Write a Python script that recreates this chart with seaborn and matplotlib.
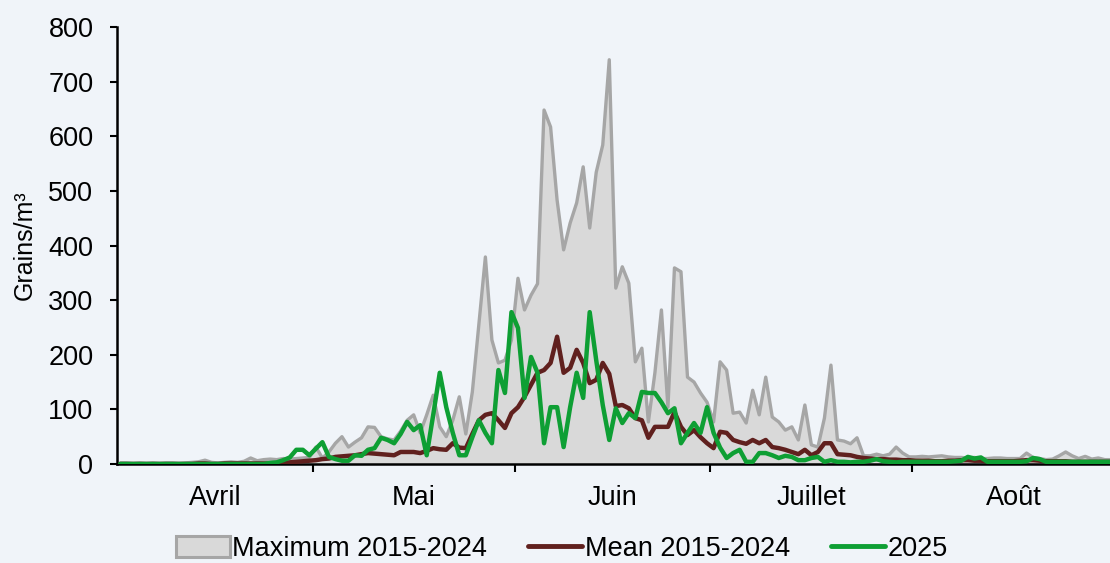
import numpy as np
import pandas as pd
import matplotlib
matplotlib.use("Agg")
import matplotlib.pyplot as plt
from matplotlib.patches import Patch
from matplotlib.lines import Line2D
import seaborn as sns

# Daily values, 1 April -> 31 August (day index 0..152)
max_2015_2024 = [
    2, 2, 1, 2, 1, 2, 1, 2, 2, 1, 2, 3, 4, 7, 3, 2, 3, 4, 3, 5,
    11, 6, 8, 9, 8, 10, 9, 10, 11, 12, 31, 11, 22, 38, 50, 31, 40, 48, 68, 67,
    50, 46, 44, 60, 80, 90, 57, 90, 126, 68, 50, 80, 123, 55, 132, 255, 379, 227, 185, 190,
    227, 340, 282, 309, 330, 648, 617, 483, 392, 441, 478, 544, 432, 534, 584, 740, 322, 361, 331, 187,
    212, 77, 167, 282, 104, 359, 352, 159, 150, 130, 113, 77, 187, 172, 93, 95, 75, 135, 90, 159,
    86, 77, 62, 68, 44, 108, 35, 31, 84, 181, 44, 42, 37, 48, 15, 15, 18, 15, 18, 31,
    20, 13, 13, 14, 13, 14, 15, 13, 12, 12, 11, 12, 10, 10, 11, 11, 10, 10, 10, 20,
    12, 10, 8, 9, 15, 22, 15, 10, 14, 9, 11, 8, 8,
]
mean_2015_2024 = [
    0, 0, 0, 0, 0, 0, 0, 0, 0, 0, 0, 0, 1, 1, 0, 0, 1, 1, 1, 1,
    1, 1, 1, 1, 1, 2, 3, 4, 5, 6, 7, 9, 10, 13, 14, 15, 16, 18, 20, 19,
    18, 17, 16, 22, 22, 22, 20, 24, 29, 27, 26, 38, 30, 29, 55, 80, 90, 93, 80, 66,
    93, 104, 123, 145, 167, 172, 185, 233, 167, 176, 209, 185, 148, 154, 185, 165, 106, 108, 102, 84,
    80, 48, 68, 68, 68, 95, 68, 53, 62, 49, 38, 29, 59, 57, 44, 40, 37, 44, 38, 44,
    31, 29, 26, 22, 18, 26, 16, 22, 38, 38, 18, 17, 16, 13, 11, 10, 9, 9, 8, 8,
    7, 7, 6, 6, 6, 5, 5, 6, 6, 7, 7, 6, 6, 5, 5, 5, 5, 5, 6, 7,
    7, 6, 5, 5, 5, 5, 4, 4, 4, 4, 4, 4, 4,
]
y2025 = [
    0, 0, 0, 0, 0, 0, 0, 0, 0, 0, 0, 0, 0, 0, 0, 0, 0, 0, 0, 0,
    0, 0, 0, 2, 3, 7, 12, 26, 26, 16, 28, 40, 13, 9, 6, 6, 16, 15, 26, 29,
    48, 44, 38, 55, 77, 62, 71, 16, 90, 167, 104, 57, 16, 16, 49, 80, 57, 38, 172, 130,
    278, 249, 121, 196, 167, 38, 104, 104, 31, 104, 167, 121, 278, 190, 108, 44, 102, 75, 93, 84,
    132, 130, 130, 113, 93, 102, 38, 57, 75, 57, 104, 57, 30, 11, 20, 26, 4, 4, 20, 20,
    16, 11, 15, 13, 7, 7, 11, 13, 4, 7, 4, 4, 3, 4, 4, 6, 9, 5, 4, 3,
    4, 4, 4, 4, 4, 4, 4, 4, 5, 6, 13, 10, 12, 4, 4, 4, 4, 4, 4, 5,
    11, 9, 4, 4, 4, 4, 4, 4, 4, 4, 4, 4, 4,
]
month_labels = ["Avril", "Mai", "Juin", "Juillet", "Août"]
month_starts = [0, 30, 61, 91, 122, 153]
legend_labels = ["Maximum 2015-2024", "Mean 2015-2024", "2025"]
y_label = "Grains/m³"

bg = "#F0F4F9"
fill_c = "#D9D9D9"
edge_c = "#A6A6A6"
mean_c = "#60201E"
green_c = "#0E9F34"

sns.set_theme(style="white")
plt.rcParams["font.family"] = ["Liberation Sans", "DejaVu Sans"]
for k in ["text.color", "axes.labelcolor", "xtick.color", "ytick.color"]:
    plt.rcParams[k] = "black"

n = len(max_2015_2024)
df = pd.DataFrame({
    "x": np.arange(n) + 0.5,
    "max": max_2015_2024,
    "mean": mean_2015_2024,
    "y2025": y2025,
})

fig = plt.figure(figsize=(11.10, 5.63), dpi=100, facecolor=bg)
ax = fig.add_axes([117 / 1110, (563 - 464) / 563, 1 - 117 / 1110, (464 - 27) / 563])
ax.set_facecolor(bg)

ax.fill_between(df["x"], 0, df["max"], color=fill_c, linewidth=0, zorder=1)
sns.lineplot(data=df, x="x", y="max", color=edge_c, linewidth=2.4, ax=ax, zorder=2)
sns.lineplot(data=df, x="x", y="mean", color=mean_c, linewidth=3.2, ax=ax, zorder=3)
sns.lineplot(data=df, x="x", y="y2025", color=green_c, linewidth=3.2, ax=ax, zorder=4)

ax.set_xlim(0, 152.3)
ax.set_ylim(0, 800)
ax.set_yticks(range(0, 801, 100))
ax.tick_params(axis="y", which="major", direction="out", length=5, width=1.5,
               color="black", labelsize=19.5, labelcolor="black", pad=12, left=True)
ax.set_xticks(month_starts[1:-1])
ax.set_xticklabels([])
ax.tick_params(axis="x", which="major", direction="out", length=6, width=1.5,
               color="black", bottom=True)
centers = [(month_starts[i] + month_starts[i + 1]) / 2 for i in range(5)]
ax.set_xticks(centers, minor=True)
ax.set_xticklabels(month_labels, minor=True)
ax.tick_params(axis="x", which="minor", length=0, labelsize=19.5, labelcolor="black", pad=15)

ax.set_xlabel("")
ax.set_ylabel(y_label, fontsize=18, labelpad=8, color="black")
for s in ["top", "right"]:
    ax.spines[s].set_visible(False)
for s in ["left", "bottom"]:
    ax.spines[s].set_color("black")
    ax.spines[s].set_linewidth(1.8)
ax.grid(False)

handles = [
    Patch(facecolor=fill_c, edgecolor=edge_c, linewidth=2.2),
    Line2D([0], [0], color=mean_c, linewidth=3.5),
    Line2D([0], [0], color=green_c, linewidth=3.5),
]
leg = fig.legend(handles, legend_labels, loc="center", bbox_to_anchor=(0.506, 1 - 549 / 563),
                 ncol=3, frameon=False, fontsize=19.5, handlelength=2.0, handleheight=0.8,
                 handletextpad=0.1, columnspacing=1.5, borderpad=0)
for t in leg.get_texts():
    t.set_color("black")

fig.savefig("out.png", dpi=100, facecolor=bg)
